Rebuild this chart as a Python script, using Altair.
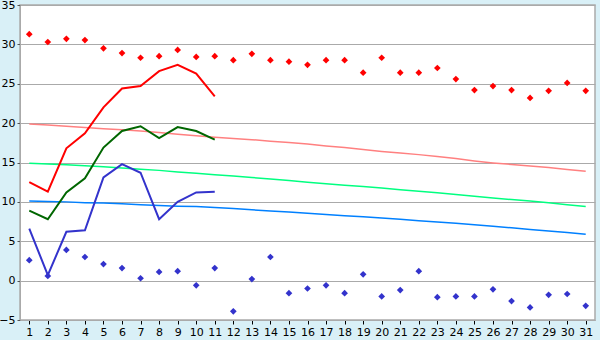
import altair as alt
import pandas as pd

days = list(range(1, 32))

rec_max = [31.3, 30.3, 30.7, 30.55, 29.5, 28.9, 28.3, 28.5, 29.3, 28.4, 28.5,
           28.0, 28.8, 28.0, 27.8, 27.4, 28.0, 28.0, 26.4, 28.3, 26.4, 26.4,
           27.0, 25.6, 24.2, 24.7, 24.2, 23.2, 24.1, 25.1, 24.1]
rec_min = [2.6, 0.6, 3.9, 3.0, 2.1, 1.6, 0.3, 1.1, 1.2, -0.6, 1.6,
           -3.9, 0.2, 3.0, -1.6, -1.0, -0.6, -1.6, 0.8, -2.0, -1.2, 1.2,
           -2.1, -2.0, -2.0, -1.1, -2.6, -3.4, -1.8, -1.7, -3.2]

obs_days = list(range(1, 12))
obs_max = [12.5, 11.3, 16.8, 18.7, 22.0, 24.4, 24.7, 26.6, 27.4, 26.3, 23.4]
obs_mean = [8.9, 7.8, 11.2, 13.0, 16.9, 19.0, 19.6, 18.1, 19.5, 19.0, 17.9]
obs_min = [6.6, 0.7, 6.2, 6.4, 13.1, 14.8, 13.7, 7.8, 10.0, 11.2, 11.3]

norm_max = [19.9, 19.75, 19.6, 19.45, 19.3, 19.15, 19.0, 18.8, 18.6, 18.4, 18.2,
            18.05, 17.9, 17.7, 17.55, 17.35, 17.1, 16.9, 16.65, 16.4, 16.2, 16.0,
            15.75, 15.5, 15.2, 14.95, 14.75, 14.55, 14.35, 14.1, 13.9]
norm_mean = [14.9, 14.8, 14.7, 14.6, 14.45, 14.3, 14.15, 14.0, 13.8, 13.65, 13.45,
             13.3, 13.1, 12.9, 12.7, 12.5, 12.3, 12.1, 11.95, 11.75, 11.55, 11.35,
             11.15, 10.95, 10.7, 10.5, 10.3, 10.1, 9.9, 9.65, 9.4]
norm_min = [10.1, 10.05, 10.0, 9.9, 9.85, 9.75, 9.65, 9.55, 9.45, 9.4, 9.3,
            9.15, 9.0, 8.85, 8.7, 8.55, 8.4, 8.25, 8.1, 7.95, 7.8, 7.6,
            7.45, 7.3, 7.1, 6.9, 6.7, 6.5, 6.3, 6.1, 5.9]

y_ticks = [-5, 0, 5, 10, 15, 20, 25, 30, 35]

xs = alt.Scale(domain=[0.5, 31.5], nice=False, zero=False)
ys = alt.Scale(domain=[-5, 35], nice=False, zero=False)

X = alt.X("day:Q", scale=xs,
          axis=alt.Axis(values=days, title=None, grid=False, tickColor="black",
                        tickSize=4, domainColor="#aaaaaa", labelFontSize=11,
                        labelPadding=2, labelColor="black", labelFlush=False))
Y = alt.Y("v:Q", scale=ys,
          axis=alt.Axis(values=y_ticks, title=None, grid=True, gridColor="#aaaaaa",
                        tickColor="#555555", tickSize=3, domainColor="#aaaaaa",
                        labelFontSize=11, labelPadding=2, labelColor="black"))


def series_df(xv, yv):
    return pd.DataFrame({"day": xv, "v": yv})


def line(xv, yv, color, width):
    return alt.Chart(series_df(xv, yv)).mark_line(
        color=color, strokeWidth=width, interpolate="linear").encode(x=X, y=Y)


def pts(xv, yv, color):
    return alt.Chart(series_df(xv, yv)).mark_point(
        shape="diamond", filled=True, color=color, size=45, opacity=1).encode(x=X, y=Y)


chart = alt.layer(
    line(days, norm_max, "#ff8080", 1.5),
    line(days, norm_mean, "#00ff80", 1.5),
    line(days, norm_min, "#0080ff", 1.5),
    line(obs_days, obs_max, "#ff0000", 2),
    line(obs_days, obs_mean, "#006600", 2),
    line(obs_days, obs_min, "#3333cc", 2),
    pts(days, rec_max, "#ff0000"),
    pts(days, rec_min, "#3333cc"),
).properties(
    width=575, height=315,
    background="#d9f0f7",
    padding={"left": 20, "top": 5, "right": 5, "bottom": 20},
    autosize=alt.AutoSizeParams(type="none"),
).configure_view(
    fill="white", stroke="#aaaaaa", strokeWidth=1.5
).configure_axis(
    labelFont="DejaVu Sans"
)

chart.save("out.html", embed_options={"renderer": "svg", "actions": False})
